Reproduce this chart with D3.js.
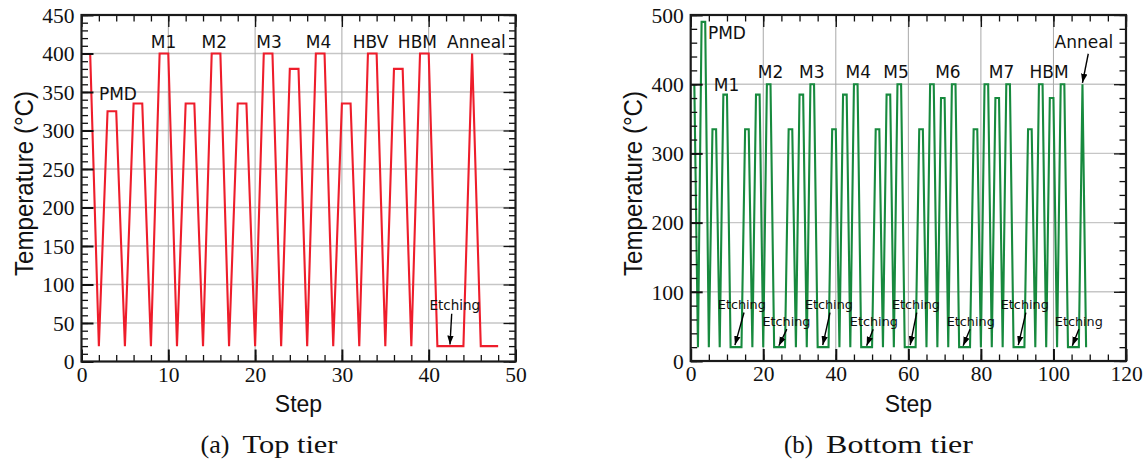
<!DOCTYPE html>
<html><head><meta charset="utf-8">
<script src="https://cdn.jsdelivr.net/npm/d3@7"></script>
<style>body{margin:0;background:#fff} svg{display:block}</style>
</head><body><svg id="c" width="1147" height="471"></svg>
<script>
// ---------------- data ----------------
const topSteps = [1,2,3,4,5,6,7,8,9,10,11,12,13,14,15,16,17,18,19,20,21,22,23,24,25,26,27,28,29,30,31,32,33,34,35,36,37,38,39,40,41,44,45,46,48];
const topTemps = [400,20,325,325,20,335,335,20,400,400,20,335,335,20,400,400,20,335,335,20,400,400,20,380,380,20,400,400,20,335,335,20,400,400,20,380,380,20,400,400,20,20,400,20,20];

const bottomSteps = [1,2,3,4,5,6,7,8,9,10,11,14,
  15,16,17,18,19,20,21,22,23,26,
  27,28,29,30,31,32,33,34,35,38,
  39,40,41,42,43,44,45,46,47,50,
  51,52,53,54,55,56,57,58,59,62,
  63,64,65,66,67,68,69,70,71,72,73,74,77,
  78,79,80,81,82,83,84,85,86,87,88,89,92,
  93,94,95,96,97,98,99,100,101,102,103,104,107,
  108,109];
const bottomTemps = [400,20,490,490,20,335,335,20,385,385,20,20,
  335,335,20,385,385,20,400,400,20,20,
  335,335,20,385,385,20,400,400,20,20,
  335,335,20,385,385,20,400,400,20,20,
  335,335,20,385,385,20,400,400,20,20,
  335,335,20,400,400,20,380,380,20,400,400,20,20,
  335,335,20,400,400,20,380,380,20,400,400,20,20,
  335,335,20,400,400,20,380,380,20,400,400,20,20,
  400,20];

const topXTicks = [0,10,20,30,40,50];
const topXMinor = d3.range(0, 51, 2);
const topYTicks = [0,50,100,150,200,250,300,350,400,450];
const topYMinor = d3.range(0, 451, 10);
const bottomXTicks = [0,20,40,60,80,100,120];
const bottomXMinor = d3.range(0, 121, 5);
const bottomYTicks = [0,100,200,300,400,500];
const bottomYMinor = d3.range(0, 501, 20);

// stage labels (text, step, temperature)
const topLabelText  = ["PMD","M1","M2","M3","M4","HBV","HBM","Anneal"];
const topLabelStep  = [4.2, 9.45, 15.3, 21.6, 27.3, 33.3, 38.7, 45.5];
const topLabelTemp  = [339, 407, 407, 407, 407, 407, 407, 407];

const bottomLabelText = ["PMD","M1","M2","M3","M4","M5","M6","M7","HBM"];
const bottomLabelStep = [10.0, 9.9, 22.0, 33.4, 46.2, 56.6, 70.9, 85.7, 98.8];
const bottomLabelTemp = [465, 390, 409, 409, 409, 409, 409, 409, 409];

// arrow annotations: label text, label position, arrow start, arrow tip (step, temperature)
const topArrowText = ["Etching"];
const topArrowLabel = [[43.0, 67]];
const topArrowFrom  = [[42.65, 62]];
const topArrowTo    = [[42.45, 22]];

const bottomArrowText  = ["Etching","Etching","Etching","Etching","Etching","Etching","Etching","Etching","Anneal"];
const bottomArrowLabel = [[14.1,75],[26.4,50],[38.1,75],[50.5,50],[62.1,75],[77.2,50],[92.1,75],[107.0,50],[108.4,452]];
const bottomArrowFrom  = [[14.7,70],[26.5,46],[38.4,70],[50.3,46],[62.3,70],[77.0,46],[92.4,70],[107.0,46],[109.6,444]];
const bottomArrowTo    = [[12.2,23],[24.3,22],[36.4,23],[48.5,22],[60.5,23],[75.1,22],[90.3,23],[105.2,22],[108.0,402]];

// ---------------- drawing ----------------
const svg = d3.select("#c");
const defs = svg.append("defs");
defs.append("marker").attr("id","ah").attr("viewBox","0 -4 9 8")
  .attr("refX",9).attr("refY",0).attr("markerWidth",9).attr("markerHeight",8)
  .attr("markerUnits","userSpaceOnUse").attr("orient","auto")
  .append("path").attr("d","M0,-3.2L9,0L0,3.2Z").attr("fill","#000");

const serif = "'Liberation Serif','Times New Roman',serif";
const sans = "'Liberation Sans',Arial,Helvetica,sans-serif";
const dv = "'DejaVu Sans',Verdana,sans-serif";

function panel(cfg) {
  const g = svg.append("g");
  const x = d3.scaleLinear().domain([0, cfg.xmax]).range([cfg.x0, cfg.x1]);
  const y = d3.scaleLinear().domain([0, cfg.ymax]).range([cfg.y0, cfg.y1]);

  // grid
  g.append("g").selectAll("line").data(cfg.yTicks.filter(v => v > 0 && v < cfg.ymax)).join("line")
    .attr("x1", cfg.x0).attr("x2", cfg.x1).attr("y1", d => y(d)).attr("y2", d => y(d))
    .attr("stroke", "#c6c6c6").attr("stroke-width", 1.4);
  g.append("g").selectAll("line").data(cfg.xTicks.filter(v => v > 0 && v < cfg.xmax)).join("line")
    .attr("y1", cfg.y0).attr("y2", cfg.y1).attr("x1", d => x(d)).attr("x2", d => x(d))
    .attr("stroke", "#a8a8a8").attr("stroke-width", 1);

  // data line
  const line = d3.line().x(d => x(d[0])).y(d => y(d[1]));
  g.append("path").datum(d3.zip(cfg.steps, cfg.temps)).attr("d", line)
    .attr("fill", "none").attr("stroke", cfg.color).attr("stroke-width", 2.1)
    .attr("stroke-linejoin", "miter");

  // axes: minor then major, all inside + mirrored
  function ax(gen, tr, vals, size, labels, pad) {
    const a = gen.tickValues(vals).tickSize(size).tickSizeOuter(0).tickPadding(pad || 0);
    if (!labels) a.tickFormat("");
    else a.tickFormat(d3.format("d"));
    const s = g.append("g").attr("transform", tr).call(a);
    s.attr("font-family", null).attr("font-size", null);
    s.select(".domain").remove();
    s.selectAll(".tick line").attr("stroke", "#111").attr("stroke-width", labels ? 2 : 1.3);
    s.selectAll("text").style("font-family", serif).style("font-size", "21.5px").attr("fill", "#111");
    return s;
  }
  const bMaj = 12, bMin = 6.5;
  ax(d3.axisBottom(x), `translate(0,${cfg.y0})`, cfg.xMinor, -bMin, false);
  ax(d3.axisTop(x), `translate(0,${cfg.y1})`, cfg.xMinor, -bMin, false);
  ax(d3.axisLeft(y), `translate(${cfg.x0},0)`, cfg.yMinor, -bMin, false);
  ax(d3.axisRight(y), `translate(${cfg.x1},0)`, cfg.yMinor, -bMin, false);
  const xb = ax(d3.axisBottom(x), `translate(0,${cfg.y0})`, cfg.xTicks, -bMaj, true, 5);
  xb.selectAll("text").attr("dy", "0.72em");
  ax(d3.axisTop(x), `translate(0,${cfg.y1})`, cfg.xTicks, -bMaj, false);
  const yl = ax(d3.axisLeft(y), `translate(${cfg.x0},0)`, cfg.yTicks, -bMaj, true, 7);
  yl.selectAll("text").attr("dy", "0.34em");
  ax(d3.axisRight(y), `translate(${cfg.x1},0)`, cfg.yTicks, -bMaj, false);

  // frame
  g.append("rect").attr("x", cfg.x0).attr("y", cfg.y1)
    .attr("width", cfg.x1 - cfg.x0).attr("height", cfg.y0 - cfg.y1)
    .attr("fill", "none").attr("stroke", "#1a1a1a").attr("stroke-width", 2.2);

  // stage labels
  g.append("g").selectAll("text").data(d3.range(cfg.labText.length)).join("text")
    .attr("x", i => x(cfg.labStep[i])).attr("y", i => y(cfg.labTemp[i]))
    .attr("text-anchor", "middle").style("font-family", dv).style("font-size", "17px")
    .attr("fill", "#111").text(i => cfg.labText[i]);

  // arrow annotations
  const ann = g.append("g");
  d3.range(cfg.arText.length).forEach(i => {
    const big = cfg.arText[i] !== "Etching";
    ann.append("text").attr("x", x(cfg.arLabel[i][0])).attr("y", y(cfg.arLabel[i][1]))
      .attr("text-anchor", "middle").style("font-family", dv)
      .style("font-size", big ? "17px" : cfg.etchSize).attr("fill", "#111")
      .text(cfg.arText[i]);
    ann.append("line")
      .attr("x1", x(cfg.arFrom[i][0])).attr("y1", y(cfg.arFrom[i][1]))
      .attr("x2", x(cfg.arTo[i][0])).attr("y2", y(cfg.arTo[i][1]))
      .attr("stroke", "#000").attr("stroke-width", 1.4).attr("marker-end", "url(#ah)");
  });

  // axis titles
  svg.append("text").attr("transform", `translate(${cfg.ytX},183.5) rotate(-90)`)
    .attr("text-anchor", "middle").style("font-family", sans).style("font-size", "26px")
    .attr("textLength", 185).attr("lengthAdjust", "spacingAndGlyphs")
    .attr("fill", "#111").text("Temperature (°C)");
  svg.append("text").attr("x", (cfg.x0 + cfg.x1) / 2).attr("y", 411.5)
    .attr("text-anchor", "middle").style("font-family", sans).style("font-size", "23px")
    .attr("fill", "#111").text("Step");
  // caption: tag + words
  svg.append("text").attr("x", cfg.capX).attr("y", 452.5)
    .style("font-family", serif).style("font-size", "24.5px")
    .attr("textLength", 29).attr("lengthAdjust", "spacingAndGlyphs")
    .attr("fill", "#111").text(cfg.capTag);
  svg.append("text").attr("x", cfg.capX + 42).attr("y", 452.5)
    .style("font-family", serif).style("font-size", "24.5px")
    .attr("textLength", cfg.capW).attr("lengthAdjust", "spacingAndGlyphs")
    .attr("fill", "#111").text(cfg.capText);
}

panel({
  x0: 81.5, x1: 515.5, y0: 361.5, y1: 15, xmax: 50, ymax: 450,
  xTicks: topXTicks, xMinor: topXMinor, yTicks: topYTicks, yMinor: topYMinor,
  steps: topSteps, temps: topTemps, color: "#ee1d2b",
  labText: topLabelText, labStep: topLabelStep, labTemp: topLabelTemp,
  arText: topArrowText, arLabel: topArrowLabel, arFrom: topArrowFrom, arTo: topArrowTo,
  etchSize: "13.5px", ytX: 33, capX: 200.5, capW: 95, capTag: "(a)", capText: "Top tier"
});
panel({
  x0: 690.7, x1: 1126, y0: 361, y1: 15, xmax: 120, ymax: 500,
  xTicks: bottomXTicks, xMinor: bottomXMinor, yTicks: bottomYTicks, yMinor: bottomYMinor,
  steps: bottomSteps, temps: bottomTemps, color: "#178a3e",
  labText: bottomLabelText, labStep: bottomLabelStep, labTemp: bottomLabelTemp,
  arText: bottomArrowText, arLabel: bottomArrowLabel, arFrom: bottomArrowFrom, arTo: bottomArrowTo,
  etchSize: "12.8px", ytX: 641.5, capX: 784, capW: 147, capTag: "(b)", capText: "Bottom tier"
});
</script></body></html>
